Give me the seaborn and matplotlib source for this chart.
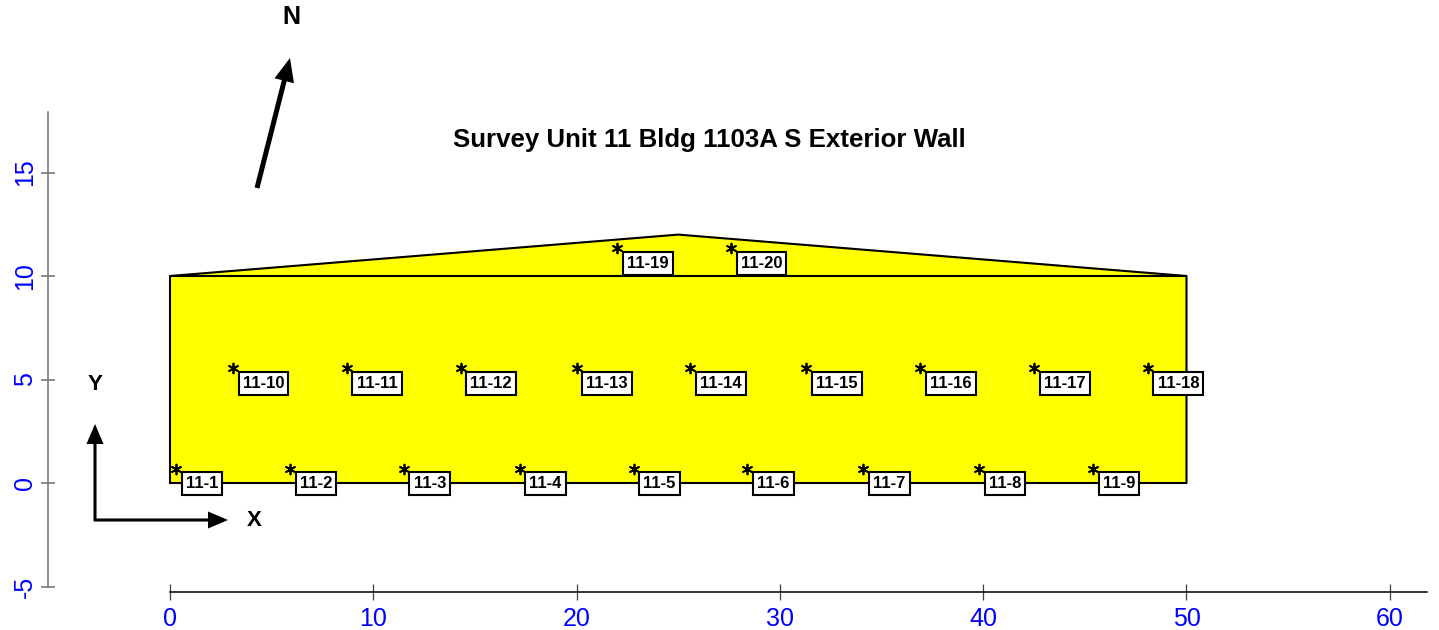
import matplotlib
matplotlib.use("Agg")
import pandas as pd
import seaborn as sns
import matplotlib.pyplot as plt

W, H = 1439, 630
X0, Y0 = 170, 483      # pixel position of data (0, 0)
SX, SY = 20.33, 20.7   # pixels per unit

# wall outline
wall_x = [0, 50, 50, 25, 0, 0]
wall_y = [0, 0, 10, 12, 10, 0]
eave_x = [0, 50]
eave_y = [10, 10]

# sample locations
labels = ["11-1", "11-2", "11-3", "11-4", "11-5", "11-6", "11-7", "11-8", "11-9",
          "11-10", "11-11", "11-12", "11-13", "11-14", "11-15", "11-16", "11-17", "11-18",
          "11-19", "11-20"]
pts_x = [0.3, 5.9, 11.5, 17.2, 22.8, 28.4, 34.1, 39.8, 45.4,
         3.1, 8.7, 14.3, 20.0, 25.6, 31.3, 36.9, 42.5, 48.1,
         22.0, 27.6]
pts_y = [0.7] * 9 + [5.55] * 9 + [11.35] * 2

xticks = [0, 10, 20, 30, 40, 50, 60]
yticks = [-5, 0, 5, 10, 15]

sns.set_style("white")
plt.rcParams['font.family'] = ['Liberation Sans', 'DejaVu Sans']
plt.rcParams['axes.unicode_minus'] = False

fig = plt.figure(figsize=(W / 100, H / 100), dpi=100)
ax = fig.add_axes([0, 0, 1, 1])
ax.patch.set_alpha(0)
ax.set_xlim(-X0 / SX, (W - X0) / SX)
ax.set_ylim((Y0 - H) / SY, Y0 / SY)


def to_data(px, py):
    return (px - X0) / SX, (Y0 - py) / SY


ax.fill(wall_x, wall_y, color="#ffff00", zorder=1)
outline = pd.DataFrame({"x": wall_x, "y": wall_y})
sns.lineplot(data=outline, x="x", y="y", sort=False, estimator=None, color="black", lw=1.5, ax=ax, zorder=2)
ax.plot(eave_x, eave_y, color="black", lw=1.5, zorder=2)

pts = pd.DataFrame({"x": pts_x, "y": pts_y, "label": labels})
sns.scatterplot(data=pts, x="x", y="y", marker=(6, 2, 0), color="black", s=50, linewidth=1.3, ax=ax, zorder=3)

for _, r in pts.iterrows():
    ax.annotate(r["label"], (r["x"], r["y"]), xytext=(7.0, -11.0), textcoords="offset points",
                ha="left", va="center", fontsize=12, fontweight="bold", color="black", zorder=5,
                bbox=dict(boxstyle="square,pad=0.25", fc="white", ec="black", lw=1.5))

# axes
for s in ["top", "right"]:
    ax.spines[s].set_visible(False)
ax.spines["left"].set_position(("data", to_data(48, 0)[0]))
ax.spines["left"].set_bounds(to_data(0, 587)[1], to_data(0, 112)[1])
ax.spines["left"].set_color("#707070")
ax.spines["left"].set_linewidth(1.1)
ax.spines["bottom"].set_position(("data", to_data(0, 592)[1]))
ax.spines["bottom"].set_bounds(0, to_data(1427, 0)[0])
ax.spines["bottom"].set_color("black")
ax.spines["bottom"].set_linewidth(1.1)
ax.set_xticks(xticks)
ax.set_yticks(yticks)
ax.tick_params(axis="x", direction="inout", length=11, width=0.9, color="#404040", labelsize=18,
               labelcolor="#0000ff", pad=5, bottom=True)
ax.tick_params(axis="y", direction="inout", length=10, width=1.1, color="#707070", labelsize=18,
               labelcolor="#0000ff", pad=3, left=True)
for t in ax.get_yticklabels():
    t.set_rotation(90)
    t.set_va("center")
ax.set_xlabel("")
ax.set_ylabel("")

# title and direction markers
tx, ty = to_data(709, 140)
ax.text(tx, ty, "Survey Unit 11 Bldg 1103A S Exterior Wall", ha="center", va="center",
        fontsize=18.6, fontweight="bold", color="black")
for s, px, py, fs in [("N", 291, 17, 18), ("X", 254, 520, 16), ("Y", 95, 384, 16)]:
    tx, ty = to_data(px, py)
    ax.text(tx, ty, s, ha="center", va="center", fontsize=fs, fontweight="bold", color="black")

arrow = dict(arrowstyle="-|>,head_length=0.75,head_width=0.32", color="black", lw=2.2,
             shrinkA=0, shrinkB=0, mutation_scale=14, joinstyle="miter", capstyle="butt")
ax.annotate("", xy=to_data(290, 58), xytext=to_data(257, 188),
            arrowprops=dict(arrow, lw=3.6), annotation_clip=False)
ax.annotate("", xy=to_data(228, 520), xytext=to_data(94, 520), arrowprops=arrow, annotation_clip=False)
ax.annotate("", xy=to_data(95, 424), xytext=to_data(95, 521), arrowprops=arrow, annotation_clip=False)

fig.savefig("out.png", dpi=100)
